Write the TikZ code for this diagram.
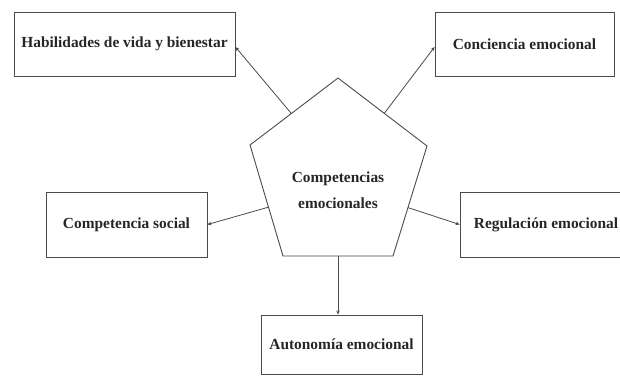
\documentclass[tikz,border=0pt]{standalone}
\usepackage{fontspec}
\setmainfont{Liberation Serif}
\usetikzlibrary{arrows.meta,calc}
\definecolor{edgegray}{HTML}{4A4A4A}
\begin{document}
\begin{tikzpicture}[x=1pt,y=-1pt,
  box/.style={draw=edgegray,line width=0.9pt,rectangle,inner sep=0pt,
    font=\bfseries\fontsize{15.4}{24}\selectfont,text=black!85},
  link/.style={draw=edgegray,line width=0.8pt,-{Stealth[length=4pt,width=3.5pt]}},
  pentaline/.style={draw=edgegray,line width=0.9pt}]
\clip (0,0) rectangle (620,375);
\fill[white] (0,0) rectangle (620,375);
% boxes
\node[box,minimum width=221pt,minimum height=64pt] (hab) at (124.5,44) {Habilidades de vida y bienestar};
\node[box,minimum width=179pt,minimum height=64pt] (con) at (524.5,44) {Conciencia emocional};
\node[box,minimum width=161pt,minimum height=65pt] (soc) at (126.5,224.5) {Competencia social};
\node[box,minimum width=172pt,minimum height=65pt] (reg) at (546,224.5) {Regulación emocional};
\node[box,minimum width=161pt,minimum height=59pt] (aut) at (341.5,344.5) {Autonomía emocional};
% pentagon
\coordinate (pt) at (338,78);
\coordinate (pl) at (250,145);
\coordinate (pr) at (427,146);
\coordinate (pbl) at (283,256);
\coordinate (pbr) at (393,256);
\draw[pentaline] (pt) -- (pr) -- (pbr) -- (pbl) -- (pl) -- cycle;
\node[font=\bfseries\fontsize{15.4}{26}\selectfont,text=black!85,align=center] (comp) at (338,190) {Competencias\\emocionales};
% connector start points on the pentagon
\coordinate (shab) at ($(pt)!0.53!(pl)$);
\coordinate (scon) at ($(pt)!0.52!(pr)$);
\coordinate (ssoc) at ($(pl)!0.56!(pbl)$);
\coordinate (sreg) at ($(pr)!0.56!(pbr)$);
\coordinate (saut) at ($(pbl)!0.5!(pbr)$);
\draw[link] (shab) -- ([yshift=-3pt]hab.east);
\draw[link] (scon) -- ([yshift=-3pt]con.west);
\draw[link] (ssoc) -- (soc.east);
\draw[link] (sreg) -- (reg.west);
\draw[link] (saut) -- (saut |- aut.north);
\end{tikzpicture}
\end{document}
